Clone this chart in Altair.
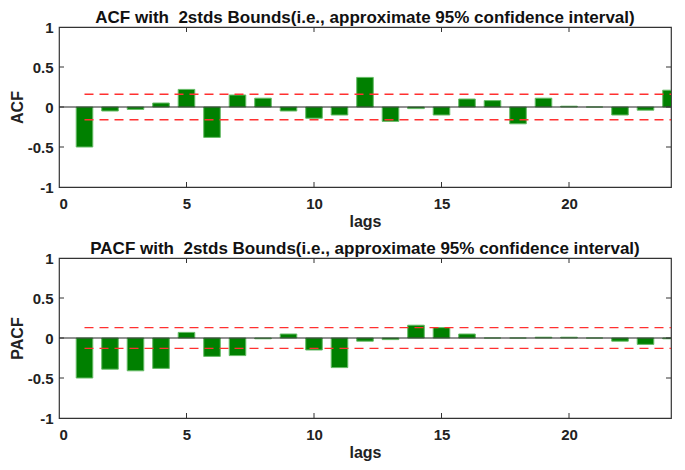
import altair as alt
import pandas as pd

# ---- data ----
lags = list(range(1, 25))
acf_values = [-0.50, -0.05, -0.03, 0.05, 0.22, -0.38, 0.15, 0.11, -0.05, -0.14,
              -0.10, 0.37, -0.18, -0.02, -0.10, 0.10, 0.08, -0.21, 0.11, 0.01,
              0.00, -0.10, -0.04, 0.21]
pacf_values = [-0.50, -0.39, -0.41, -0.38, 0.07, -0.23, -0.22, -0.01, 0.05, -0.15,
               -0.37, -0.04, -0.02, 0.16, 0.13, 0.05, 0.00, 0.00, 0.01, 0.01,
               0.00, -0.04, -0.08, -0.01]
acf_bound = 0.16
pacf_bound = 0.13
bound_start = 1
bound_end = 24
x_domain = [0, 24]
y_domain = [-1, 1]
x_tick_values = [5, 10, 15, 20]
x_label_values = [0, 5, 10, 15, 20]
y_tick_values = [-0.5, 0, 0.5]
y_label_values = [-1, -0.5, 0, 0.5, 1]
acf_title = "ACF with\u00a0 2stds Bounds(i.e., approximate 95% confidence interval)"
pacf_title = "PACF with\u00a0 2stds Bounds(i.e., approximate 95% confidence interval)"

# ---- style ----
W = 612
H = 160
FONT = "Liberation Sans"
HALF = 0.325
AXIS_COLOR = "#333333"
TICK_LEN = 5


def panel(values, bound, ylabel, title):
    xs = alt.Scale(domain=x_domain, nice=False, zero=False)
    ys = alt.Scale(domain=y_domain, nice=False, zero=False)
    xaxis = alt.Axis(values=x_label_values, title="lags", labelExpr="toString(datum.value)")
    yaxis = alt.Axis(values=y_label_values, title=ylabel, labelExpr="toString(datum.value)")
    df = pd.DataFrame({"lag": lags, "value": values})

    bars = (
        alt.Chart(df)
        .transform_calculate(lo=f"datum.lag - {HALF}", hi=f"datum.lag + {HALF}")
        .mark_bar(fill="#008000", stroke="#66bb66", strokeWidth=1, clip=True)
        .encode(
            x=alt.X("lo:Q", scale=xs, axis=xaxis),
            x2="hi:Q",
            y=alt.Y("value:Q", scale=ys, axis=yaxis),
            y2=alt.datum(0),
        )
    )

    bdf = pd.DataFrame({"b": [bound, -bound],
                        "s": [bound_start, bound_start],
                        "e": [bound_end, bound_end]})
    bounds = (
        alt.Chart(bdf)
        .mark_rule(color="#ff3030", strokeDash=[9, 6], strokeWidth=1.4)
        .encode(x=alt.X("s:Q", scale=xs, axis=xaxis), x2="e:Q",
                y=alt.Y("b:Q", scale=ys, axis=yaxis))
    )

    zero = (
        alt.Chart(pd.DataFrame({"z": [0]}))
        .mark_rule(color="#222222", strokeWidth=1)
        .encode(y=alt.Y("z:Q", scale=ys, axis=yaxis))
    )

    xt = pd.DataFrame({"t": x_tick_values})
    yt = pd.DataFrame({"t": y_tick_values})
    top_ticks = alt.Chart(xt).mark_rule(color=AXIS_COLOR).encode(
        x=alt.X("t:Q", scale=xs, axis=xaxis), y=alt.value(0), y2=alt.value(TICK_LEN))
    bot_ticks = alt.Chart(xt).mark_rule(color=AXIS_COLOR).encode(
        x=alt.X("t:Q", scale=xs, axis=xaxis), y=alt.value(H), y2=alt.value(H - TICK_LEN))
    left_ticks = alt.Chart(yt).mark_rule(color=AXIS_COLOR).encode(
        y=alt.Y("t:Q", scale=ys, axis=yaxis), x=alt.value(0), x2=alt.value(TICK_LEN))
    right_ticks = alt.Chart(yt).mark_rule(color=AXIS_COLOR).encode(
        y=alt.Y("t:Q", scale=ys, axis=yaxis), x=alt.value(W - TICK_LEN), x2=alt.value(W))

    return alt.layer(bars, bounds, zero, top_ticks, bot_ticks, left_ticks, right_ticks).properties(
        width=W, height=H,
        title=alt.Title(title, font=FONT, fontSize=17, fontWeight="bold",
                        color="#111111", anchor="middle", offset=-7),
    )


top = panel(acf_values, acf_bound, "ACF", acf_title)
bottom = panel(pacf_values, pacf_bound, "PACF", pacf_title)

chart = (
    alt.vconcat(top, bottom, spacing=9)
    .properties(padding={"left": 0, "top": 0, "right": 1, "bottom": 0})
    .configure_view(stroke=AXIS_COLOR, strokeWidth=1.2)
    .configure_axis(
        grid=False, domain=False, ticks=False,
        labelFont=FONT, labelFontSize=15, labelFontWeight="bold", labelColor="#222222",
        titleFont=FONT, titleFontSize=16, titleFontWeight="bold", titleColor="#222222",
    )
    .configure_axisX(labelPadding=9, titlePadding=2)
    .configure_axisY(labelPadding=6, titlePadding=2)
)

chart.save("out.html", embed_options={"renderer": "svg", "actions": False})
